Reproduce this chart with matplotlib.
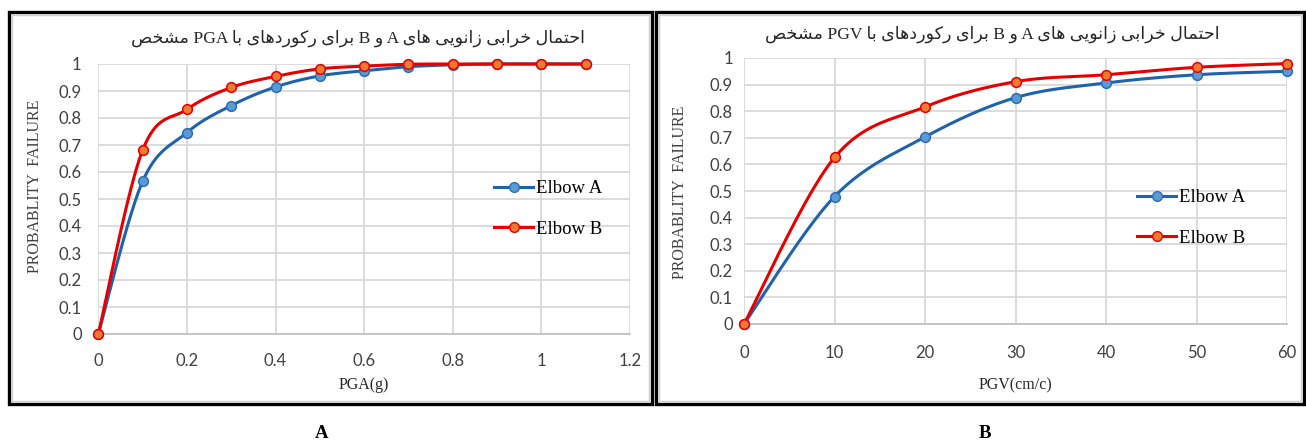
import numpy as np
import matplotlib
matplotlib.use("Agg")
import matplotlib.pyplot as plt
from matplotlib.patches import Rectangle

# ---------------- data ----------------
pga = [0, 0.1, 0.2, 0.3, 0.4, 0.5, 0.6, 0.7, 0.8, 0.9, 1.0, 1.1]
pga_elbow_a = [0, 0.565, 0.746, 0.846, 0.915, 0.956, 0.975, 0.99, 0.997, 1.0, 1.0, 1.0]
pga_elbow_b = [0, 0.681, 0.832, 0.913, 0.954, 0.982, 0.992, 0.999, 1.0, 1.0, 1.0, 1.0]

pgv = [0, 10, 20, 30, 40, 50, 60]
pgv_elbow_a = [0, 0.479, 0.703, 0.851, 0.906, 0.937, 0.950]
pgv_elbow_b = [0, 0.626, 0.816, 0.911, 0.937, 0.965, 0.979]

series_names = ["Elbow A", "Elbow B"]
pga_xticks = [0, 0.2, 0.4, 0.6, 0.8, 1.0, 1.2]
pga_xticklabels = ["0", "0.2", "0.4", "0.6", "0.8", "1", "1.2"]
pgv_xticks = [0, 10, 20, 30, 40, 50, 60]
pgv_xticklabels = ["0", "10", "20", "30", "40", "50", "60"]
yticks = [0, 0.1, 0.2, 0.3, 0.4, 0.5, 0.6, 0.7, 0.8, 0.9, 1.0]
yticklabels = ["0", "0.1", "0.2", "0.3", "0.4", "0.5", "0.6", "0.7", "0.8", "0.9", "1"]

title_a = "احتمال خرابی زانویی های A و B برای رکوردهای با PGA مشخص"
title_b = "احتمال خرابی زانویی های A و B برای رکوردهای با PGV مشخص"
ylabel = "PROBABLITY  FAILURE"
xlabel_a = "PGA(g)"
xlabel_b = "PGV(cm/c)"
panel_a = "A"
panel_b = "B"

# ---------------- Arabic shaping (presentation forms, visual order) ----------------
FORMS = {
    '\u0627': ('\uFE8D', '\uFE8E', None, None),
    '\u0628': ('\uFE8F', '\uFE90', '\uFE91', '\uFE92'),
    '\u062A': ('\uFE95', '\uFE96', '\uFE97', '\uFE98'),
    '\u062D': ('\uFEA1', '\uFEA2', '\uFEA3', '\uFEA4'),
    '\u062E': ('\uFEA5', '\uFEA6', '\uFEA7', '\uFEA8'),
    '\u062F': ('\uFEA9', '\uFEAA', None, None),
    '\u0631': ('\uFEAD', '\uFEAE', None, None),
    '\u0632': ('\uFEAF', '\uFEB0', None, None),
    '\u0634': ('\uFEB5', '\uFEB6', '\uFEB7', '\uFEB8'),
    '\u0635': ('\uFEB9', '\uFEBA', '\uFEBB', '\uFEBC'),
    '\u0644': ('\uFEDD', '\uFEDE', '\uFEDF', '\uFEE0'),
    '\u0645': ('\uFEE1', '\uFEE2', '\uFEE3', '\uFEE4'),
    '\u0646': ('\uFEE5', '\uFEE6', '\uFEE7', '\uFEE8'),
    '\u0647': ('\uFEE9', '\uFEEA', '\uFEEB', '\uFEEC'),
    '\u0648': ('\uFEED', '\uFEEE', None, None),
    '\u06CC': ('\uFEEF', '\uFEF0', '\uFEF3', '\uFEF4'),
    '\u06A9': ('\uFED9', '\uFEDA', '\uFEDB', '\uFEDC'),
}


def shape_word(w):
    out = []
    for i, c in enumerate(w):
        if c not in FORMS:
            out.append(c)
            continue
        prev = w[i - 1] if i > 0 else None
        nxt = w[i + 1] if i + 1 < len(w) else None
        jp = prev in FORMS and FORMS[prev][2] is not None
        jn = FORMS[c][2] is not None and nxt in FORMS
        iso, fin, ini, med = FORMS[c]
        if jp and jn:
            out.append(med)
        elif jp:
            out.append(fin)
        elif jn:
            out.append(ini)
        else:
            out.append(iso)
    return "".join(out)


def rtl(text):
    toks = text.split(" ")
    vis = []
    for t in reversed(toks):
        if any(ch in FORMS for ch in t):
            vis.append(shape_word(t)[::-1])
        else:
            vis.append(t)
    return " ".join(vis)


def smooth(x, y, n=40):
    # Excel-like smoothed line (Catmull-Rom cubic Bezier through the points)
    x = np.asarray(x, float)
    y = np.asarray(y, float)
    P = np.column_stack([x, y])
    pts = []
    for i in range(len(P) - 1):
        p0 = P[i - 1] if i > 0 else P[i]
        p1 = P[i]
        p2 = P[i + 1]
        p3 = P[i + 2] if i + 2 < len(P) else P[i + 1]
        c1 = p1 + (p2 - p0) / 6.0
        c2 = p2 - (p3 - p1) / 6.0
        t = np.linspace(0, 1, n)[:, None]
        seg = ((1 - t) ** 3) * p1 + 3 * ((1 - t) ** 2) * t * c1 + 3 * (1 - t) * t ** 2 * c2 + t ** 3 * p2
        pts.append(seg if i == 0 else seg[1:])
    pts = np.vstack(pts)
    return pts[:, 0], pts[:, 1]


# ---------------- figure ----------------
W, H = 1306, 443
fig = plt.figure(figsize=(W / 100, H / 100), dpi=100)
fig.patch.set_facecolor("white")

SERIF = ["Liberation Serif", "DejaVu Sans"]
TICKFONT = "Lato"

BLUE_LINE = "#1f63ad"
BLUE_FILL = "#5b9bd5"
BLUE_EDGE = "#2a6db3"
RED_LINE = "#e80000"
RED_FILL = "#f07a30"
RED_EDGE = "#e40000"


def fx(px):
    return px / W


def fy(py):
    return 1 - py / H


def make_panel(box, frame, xs, ya, yb, xticks, xticklabels, xlim, title, title_xy,
               xlabel, ylabel_xy, xpad, ypad, xlabelpad, leg_anchor, panel_label, panel_xy):
    # frames
    x0, y0, x1, y1 = frame
    fig.add_artist(Rectangle((fx(x0), fy(y1)), fx(x1 - x0), (y1 - y0) / H,
                             transform=fig.transFigure, fill=False, ec="black", lw=2.4))
    fig.add_artist(Rectangle((fx(x0 + 3), fy(y1 - 3)), fx(x1 - x0 - 6), (y1 - y0 - 6) / H,
                             transform=fig.transFigure, fill=False, ec="#d0d0d0", lw=1.0))
    l, t, r, b = box
    ax = fig.add_axes([fx(l), fy(b), fx(r - l), (b - t) / H])
    ax.set_xlim(*xlim)
    ax.set_ylim(0, 1)
    ax.set_xticks(xticks)
    ax.set_xticklabels(xticklabels, fontfamily=TICKFONT, fontsize=12, color="#404040")
    ax.set_yticks(yticks)
    ax.set_yticklabels(yticklabels, fontfamily=TICKFONT, fontsize=12, color="#404040")
    ax.tick_params(axis="x", length=0, pad=xpad)
    ax.tick_params(axis="y", length=0, pad=ypad)
    for s in ["top", "right", "left"]:
        ax.spines[s].set_visible(False)
    ax.spines["bottom"].set_color("#bfbfbf")
    ax.spines["bottom"].set_linewidth(1.2)
    ax.grid(True, color="#d9d9d9", lw=1.3)
    ax.set_axisbelow(True)

    sx, sy = smooth(xs, ya)
    ax.plot(sx, sy, color=BLUE_LINE, lw=2.2, clip_on=False, zorder=3)
    ax.plot(xs, ya, ls="none", marker="o", ms=7, mfc=BLUE_FILL, mec=BLUE_EDGE, mew=1.1,
            clip_on=False, zorder=4)
    sx, sy = smooth(xs, yb)
    ax.plot(sx, sy, color=RED_LINE, lw=2.2, clip_on=False, zorder=5)
    ax.plot(xs, yb, ls="none", marker="o", ms=7, mfc=RED_FILL, mec=RED_EDGE, mew=1.1,
            clip_on=False, zorder=6)

    # legend proxies
    ha, = ax.plot([], [], color=BLUE_LINE, lw=2.2, marker="o", ms=7, mfc=BLUE_FILL, mec=BLUE_EDGE)
    hb, = ax.plot([], [], color=RED_LINE, lw=2.2, marker="o", ms=7, mfc=RED_FILL, mec=RED_EDGE)
    ax.legend([ha, hb], series_names, loc="upper left",
              bbox_to_anchor=(fx(leg_anchor[0]), fy(leg_anchor[1])), bbox_transform=fig.transFigure,
              frameon=False, prop={"family": SERIF, "size": 13.5}, handlelength=2.1,
              handletextpad=0.15, labelspacing=1.25, borderaxespad=0, borderpad=0)

    ax.set_xlabel(xlabel, fontfamily=SERIF, fontsize=11.5, color="#262626", labelpad=xlabelpad)
    fig.text(fx(ylabel_xy[0]), fy(ylabel_xy[1]), ylabel, rotation=90, ha="center", va="center",
             fontfamily=SERIF, fontsize=11.5, color="#404040")
    fig.text(fx(title_xy[0]), fy(title_xy[1]), rtl(title), ha="center", va="center",
             fontfamily=SERIF, fontsize=12.6, color="#262626")
    fig.text(fx(panel_xy[0]), fy(panel_xy[1]), panel_label, ha="center", va="center",
             fontfamily=SERIF, fontsize=13.5, fontweight="bold", color="black")
    return ax


make_panel(box=(98.3, 64, 630, 334), frame=(9, 12, 652, 404),
           xs=pga, ya=pga_elbow_a, yb=pga_elbow_b,
           xticks=pga_xticks, xticklabels=pga_xticklabels, xlim=(0, 1.2),
           title=title_a, title_xy=(358, 38), xlabel=xlabel_a, ylabel_xy=(35, 186),
           xpad=13.5, ypad=12, xlabelpad=6, leg_anchor=(494, 180),
           panel_label=panel_a, panel_xy=(322, 434))

make_panel(box=(744, 58, 1287, 324), frame=(656, 12, 1304, 404),
           xs=pgv, ya=pgv_elbow_a, yb=pgv_elbow_b,
           xticks=pgv_xticks, xticklabels=pgv_xticklabels, xlim=(0, 60),
           title=title_b, title_xy=(992, 34), xlabel=xlabel_b, ylabel_xy=(680, 192),
           xpad=15, ypad=8, xlabelpad=12, leg_anchor=(1137, 189),
           panel_label=panel_b, panel_xy=(985, 434))

fig.savefig("out.png", dpi=100, facecolor="white")
